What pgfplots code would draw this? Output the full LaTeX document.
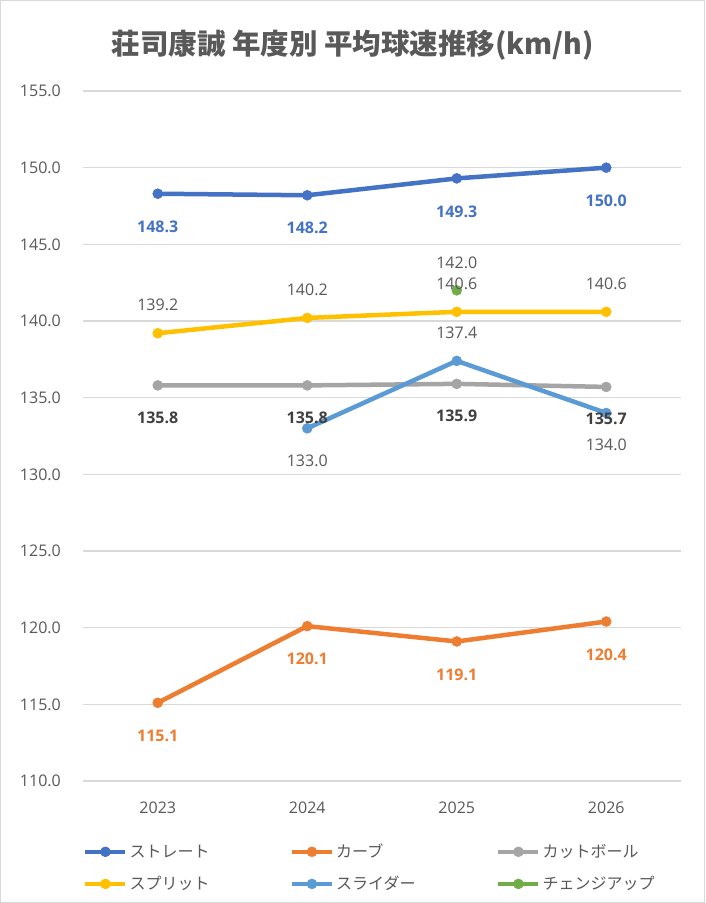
\documentclass[border=0pt]{standalone}
\usepackage{fontspec}
\usepackage{pgfplots}
\pgfplotsset{compat=1.18}
\setmainfont{Open Sans}
\newfontfamily\cjk{Noto Sans CJK JP}
\definecolor{cS}{HTML}{4472C4}
\definecolor{cC}{HTML}{ED7D31}
\definecolor{cK}{HTML}{A5A5A5}
\definecolor{cP}{HTML}{FFC000}
\definecolor{cL}{HTML}{5B9BD5}
\definecolor{cG}{HTML}{70AD47}
\definecolor{txt}{HTML}{595959}
\definecolor{dk}{HTML}{404040}
\definecolor{grid}{HTML}{D9D9D9}
\begin{document}
\begin{tikzpicture}
\fill[white] (0pt,0pt) rectangle (705pt,903pt);
\draw[color=grid, line width=1.2pt] (0.6pt,0.6pt) rectangle (704.4pt,902.4pt);
\node[font=\cjk\bfseries\fontsize{28.5}{30}\selectfont, text=txt] at (353pt,858pt) {荘司康誠 年度別 平均球速推移(km/h)};
\begin{axis}[
  at={(83pt,122pt)}, anchor=south west,
  scale only axis, width=598pt, height=690pt,
  xmin=-0.5, xmax=3.5, ymin=110, ymax=155,
  xtick={0,1,2,3}, xticklabels={2023,2024,2025,2026},
  ytick={110,115,...,155},
  /pgf/number format/assume math mode=true,
  yticklabel={\pgfmathprintnumber[fixed,fixed zerofill,precision=1]{\tick}},
  axis line style={draw=none},
  major tick length=0pt,
  ymajorgrids, grid style={color=grid, line width=1.3pt},
  ticklabel style={font=\fontsize{16}{18}\selectfont, text=txt},
  yticklabel style={anchor=east, inner sep=0pt, xshift=-22pt},
  xticklabel style={anchor=center, inner sep=0pt, yshift=-27pt},
  clip=false,
  legend columns=3,
  legend cell align=left,
  legend style={draw=none, fill=none, at={(axis description cs:0,0)}, anchor=north west,
    yshift=-61pt, xshift=0pt, inner sep=0pt,
    font=\cjk\fontsize{16}{18}\selectfont, text=txt,
    nodes={inner xsep=2pt},
    /tikz/every even column/.append style={column sep=0pt},
    row sep=13pt},
  legend image code/.code={\draw[#1, mark repeat=2, mark phase=2] plot coordinates {(0pt,0pt) (20pt,0pt) (40pt,0pt)};},
  ser/.style={line width=4.5pt, mark=*, mark size=5pt, mark options={line width=0.5pt}},
  lab/.style={draw=none, mark=none, forget plot,
    nodes near coords={\pgfmathprintnumber[fixed,fixed zerofill,precision=1]{\pgfplotspointmeta}},
    every node near coord/.append style={anchor=center, inner sep=0pt, font=\fontsize{16}{18}\selectfont}},
]
\addplot[ser, cS] coordinates {(0,148.3)(1,148.2)(2,149.3)(3,150.0)};
\addlegendentry{\makebox[158pt][l]{ストレート}}
\addplot[ser, cC] coordinates {(0,115.1)(1,120.1)(2,119.1)(3,120.4)};
\addlegendentry{\makebox[158pt][l]{カーブ}}
\addplot[ser, cK] coordinates {(0,135.8)(1,135.8)(2,135.9)(3,135.7)};
\addlegendentry{\makebox[158pt][l]{カットボール}}
\addplot[ser, cP] coordinates {(0,139.2)(1,140.2)(2,140.6)(3,140.6)};
\addlegendentry{\makebox[158pt][l]{スプリット}}
\addplot[ser, cL] coordinates {(1,133.0)(2,137.4)(3,134.0)};
\addlegendentry{\makebox[158pt][l]{スライダー}}
\addplot[ser, cG] coordinates {(2,142.0)};
\addlegendentry{\makebox[158pt][l]{チェンジアップ}}
% data labels
\addplot[lab, every node near coord/.append style={yshift=-33pt, text=cS, font=\bfseries\fontsize{16}{18}\selectfont}] coordinates {(0,148.3)(1,148.2)(2,149.3)(3,150.0)};
\addplot[lab, every node near coord/.append style={yshift=-33pt, text=cC, font=\bfseries\fontsize{16}{18}\selectfont}] coordinates {(0,115.1)(1,120.1)(2,119.1)(3,120.4)};
\addplot[lab, every node near coord/.append style={yshift=-32pt, text=dk, font=\bfseries\fontsize{16}{18}\selectfont}] coordinates {(0,135.8)(1,135.8)(2,135.9)(3,135.7)};
\addplot[lab, every node near coord/.append style={yshift=28pt, text=txt}] coordinates {(0,139.2)(1,140.2)(2,140.6)(3,140.6)};
\addplot[lab, every node near coord/.append style={yshift=-32pt, text=txt}] coordinates {(1,133.0)(3,134.0)};
\addplot[lab, every node near coord/.append style={yshift=28pt, text=txt}] coordinates {(2,137.4)};
\addplot[lab, every node near coord/.append style={yshift=28pt, text=txt}] coordinates {(2,142.0)};
\end{axis}
\end{tikzpicture}
\end{document}
